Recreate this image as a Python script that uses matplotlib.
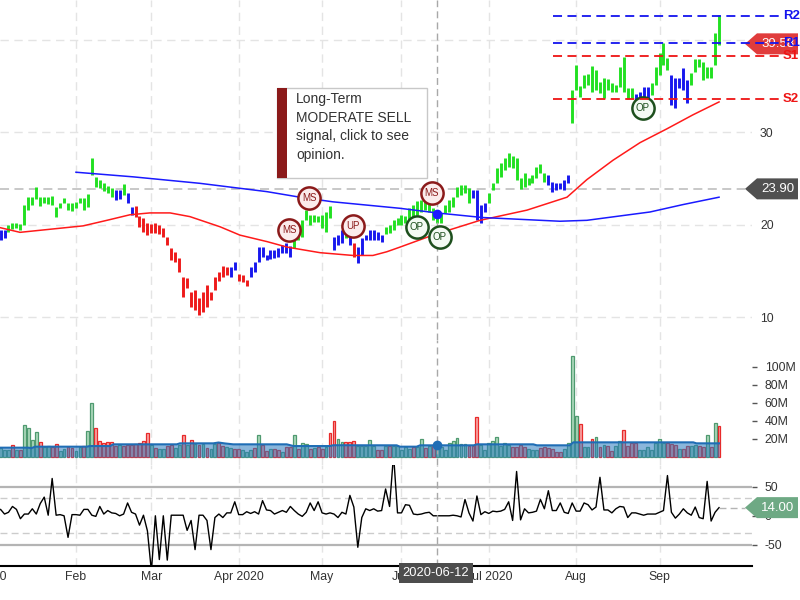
import numpy as np
import matplotlib
matplotlib.use("Agg")
import matplotlib.pyplot as plt
from matplotlib.patches import Polygon, Rectangle
from matplotlib.transforms import blended_transform_factory as blend

plt.rcParams['font.family'] = ['Liberation Sans', 'DejaVu Sans']
plt.rcParams['axes.unicode_minus'] = False

# x = trading day index, 0 = 2020-01-02
month_idx = [21, 40, 62, 83, 103, 125, 147, 168]
month_lbl = ['Feb', 'Mar', 'Apr 2020', 'May', 'Jun', 'Jul 2020', 'Aug', 'Sep']
jan_idx = -2.8

high = [19.7, 19.6, 19.4, 19.4, 20.0, 20.2, 20.2, 20.1, 22.2, 23.0,
        23.0, 24.1, 23.0, 23.0, 23.0, 23.1, 21.9, 22.4, 22.9, 22.4,
        22.4, 22.5, 22.9, 22.9, 23.3, 27.2, 25.2, 24.9, 24.5, 24.2,
        24.0, 23.8, 23.8, 24.4, 23.5, 21.9, 22.1, 21.0, 20.8, 20.2,
        20.1, 20.2, 20.0, 19.7, 18.7, 17.5, 17.1, 16.4, 14.4, 14.3,
        12.8, 13.0, 12.1, 12.7, 13.5, 12.8, 14.4, 14.9, 15.6, 15.5,
        15.4, 16.0, 14.7, 14.6, 14.1, 15.4, 16.0, 17.6, 17.6, 16.8,
        17.3, 17.3, 17.5, 17.8, 18.1, 17.7, 18.4, 19.4, 20.5, 21.6,
        21.1, 21.1, 21.0, 21.1, 21.4, 22.1, 18.7, 18.9, 19.5, 19.7,
        19.2, 18.1, 17.6, 18.6, 18.9, 19.4, 19.4, 19.2, 18.9, 19.8,
        20.0, 20.5, 20.8, 21.1, 21.0, 21.8, 22.2, 22.6, 22.7, 22.7,
        22.4, 21.8, 21.4, 21.3, 22.2, 22.7, 23.0, 24.1, 24.3, 24.3,
        24.0, 23.8, 23.8, 22.2, 22.4, 23.5, 24.5, 26.2, 26.7, 27.2,
        27.8, 27.4, 27.2, 25.1, 25.6, 25.1, 25.4, 26.3, 26.6, 25.6,
        25.4, 24.6, 24.5, 24.5, 24.9, 25.4, 34.6, 37.3, 35.0, 36.2,
        36.3, 37.2, 36.8, 35.5, 35.9, 35.8, 35.3, 35.1, 37.1, 38.2,
        34.8, 34.8, 34.2, 34.4, 34.9, 34.9, 35.3, 37.1, 38.6, 39.7,
        38.0, 36.2, 35.9, 35.9, 37.0, 35.7, 36.4, 37.9, 37.9, 37.6,
        37.1, 37.1, 40.8, 42.7]
low = [18.6, 18.5, 18.4, 18.6, 19.2, 19.6, 19.7, 19.5, 20.0, 21.6,
       22.2, 22.8, 22.1, 22.4, 22.3, 22.2, 20.9, 21.8, 22.4, 21.6,
       21.5, 21.8, 22.4, 21.6, 21.9, 25.4, 24.1, 24.0, 23.7, 23.5,
       23.0, 22.7, 22.8, 23.2, 22.4, 21.1, 20.9, 19.8, 19.2, 18.9,
       19.1, 19.1, 19.0, 18.7, 17.8, 16.2, 16.0, 14.9, 12.2, 13.2,
       11.1, 10.8, 10.3, 10.6, 11.1, 11.9, 13.0, 13.9, 14.4, 14.6,
       14.4, 15.1, 13.9, 13.8, 13.4, 14.4, 14.9, 16.0, 16.5, 16.2,
       16.3, 16.4, 16.5, 17.0, 17.0, 16.5, 17.5, 18.4, 18.7, 20.5,
       20.0, 20.3, 20.3, 19.7, 19.2, 20.8, 17.3, 17.8, 18.1, 18.6,
       17.8, 16.5, 15.9, 16.8, 18.4, 18.4, 18.4, 18.4, 18.2, 19.0,
       19.1, 19.5, 20.0, 20.0, 20.2, 20.5, 20.9, 21.1, 21.4, 21.6,
       21.4, 20.5, 20.2, 20.2, 21.3, 21.4, 21.9, 23.0, 23.2, 23.5,
       22.4, 22.9, 20.5, 20.2, 21.4, 22.4, 23.8, 24.5, 25.2, 25.9,
       26.3, 26.2, 24.9, 23.9, 24.1, 24.3, 24.5, 25.1, 25.6, 24.6,
       24.3, 23.6, 23.8, 23.9, 23.8, 24.5, 31.0, 34.6, 33.8, 34.8,
       35.1, 34.4, 34.6, 34.3, 33.7, 34.6, 34.4, 34.4, 34.9, 34.4,
       33.6, 33.7, 33.3, 33.5, 33.7, 33.6, 34.0, 35.1, 36.2, 37.3,
       36.8, 33.0, 32.6, 34.8, 34.6, 33.2, 35.1, 36.5, 37.1, 35.7,
       35.9, 35.9, 37.3, 39.5]
# bar colour: g = up trend, b = neutral, r = down trend
trend = ("b" * 4 + "g" * 27 + "b" * 2 + "g" + "b" * 2 + "r" * 24 + "b" * 2 + "r" * 3
         + "b" * 11 + "g" * 10 + "b" * 3 + "g" + "b" + "r" + "b" * 7 + "g" * 22
         + "b" * 4 + "g" * 15 + "b" * 6 + "g" * 16 + "b" * 4 + "g" * 5 + "b" * 5 + "g" * 8)

red_ma_idx = [0, 6.9, 22.8, 28.8, 34.6, 39.6, 44.7, 49.7, 57.3, 62.3, 69.1, 74.2, 82.5,
              90.8, 95.8, 99.3, 102.6, 110.9, 122.8, 134.6, 144.7, 149.7, 156.3, 163.1,
              169.9, 176.4, 183]
red_ma_val = [19.9, 19.2, 19.9, 20.5, 21.1, 21.3, 21.3, 20.9, 19.8, 18.9, 18.2, 17.6, 17.0,
              16.7, 16.7, 17.1, 17.6, 18.9, 20.5, 21.6, 23.0, 24.9, 27.0, 28.9,
              30.4, 31.9, 33.3]
blue_ma_idx = [21, 35.4, 52.2, 69.1, 77.4, 85.7, 102.6, 111.9, 123.5, 142.9, 149.7, 165.6, 173.9, 183]
blue_ma_val = [25.7, 25.2, 24.5, 23.6, 23.0, 22.5, 21.8, 21.3, 20.8, 20.4, 20.5, 21.4, 22.2, 23.0]

# volume, millions
volume = ([9, 9, 10,
           8, 8, 13, 8, 8, 35, 32, 19, 28, 17,
           11, 12, 11, 14, 7, 9, 11, 10, 7, 11,
           12, 29, 60, 32, 18, 15, 17, 17, 12, 13,
           12, 13, 13, 14, 15, 18, 26, 13, 10, 9,
           9, 12, 13, 10, 13, 24, 13, 19, 14, 13,
           14, 10, 9, 14, 16, 12, 11, 10, 9, 9,
           8, 6, 8, 10, 24, 13, 7, 9, 9, 8,
           5, 11, 11, 24, 9, 16, 14, 9, 10, 11,
           9, 11, 27, 40, 20, 17, 17, 17, 18, 12,
           12, 12, 19]
          + [12, 8, 8, 12, 12, 12, 12, 8, 11, 9,
             11, 11, 20, 10, 12, 12, 13, 11, 8, 15,
             18, 21, 14, 14, 12, 12, 44, 13, 8, 15,
             18, 22, 12, 16, 13, 11, 11, 13, 11, 9,
             8, 8, 10, 11, 10, 9, 6, 5, 9, 15]
          + [112, 45, 37, 11, 11, 20, 22, 11, 13, 12,
             7, 12, 18, 30, 12, 16, 16, 8, 8, 11,
             8, 16, 20, 16, 16, 14, 13, 9, 9, 12,
             12, 13, 12, 11, 24, 11, 38, 34])
vol_dir = ("uuuuududuu" "uuduudduud" "duuduudddd" "dduddddddd" "uduudduudu"
           "dududuuddu" "udduuududd" "uddudduduu" "duddudduud" "dduuuuuddu"
           "duuuuuduud" "uduuuuuuuu" "ddduuuuuuu" "udddduuudd" "dddduuuudu"
           "udududduud" "ddduuuuuuu" "dddudduudd" "udud")
vma_idx = [0, 9, 9.8, 10.7, 23.7, 24.5, 29.6, 30.4, 46.4, 47.2, 55.6, 56.9, 58.5, 60.6,
           74.1, 75.8, 85, 85.8, 101.8, 102.6, 106.8, 107.7, 121.2, 122, 136.2, 137.1,
           145.4, 146.3, 176.5, 177.3, 183]
vma_val = [10.3, 10.3, 9.8, 11.4, 11.4, 12.1, 12.1, 14, 14, 15.1, 15.1, 16, 15, 14,
           14, 12.1, 12.1, 13, 12.9, 11.4, 11.4, 12.9, 12.9, 14, 14, 12.9,
           12.9, 16.2, 16.2, 15.1, 15.1]

osc = ([6, 9,
        11, 3, 6, 16, 11, -5, 3, 3, 12, 3, 21, 32, 1, 64, 1, 2, 0, -37, 2, 2,
        1, 11, 11, 1, -1, 16, 3, 9, 5, 4, 0, 3, 22, 6, 3, -16, 1, -26, -95, 0,
        -75, 0, -76, 1, 1, 1, 1, -25, -8, -58, 1, 1, -8, -58, -3, 3, -3, 5, 5, 24,
        2, 2, 7, 4, 7, 3, 26, 10, 9, 3, 6, 9, 6, 16, 9, 3, -1, 6, 22, 9,
        24, 5, 3, 5, 3, -3, 6, 3, 35, 15, -54, -3]
       + [12, 9, 12, 8, 9, 46, 16, 105, 5, 5, 19, 18, 3, 2, 3, 5, 6, 0, 0, 0,
          0, 0, 1, 0, -2, 28, 5, -9, 34, 2, 7, 4, 8, 7, 8, 11, 24, -8, 76, -7,
          12, 5, 6, 8, 28, 12, 43, 9, 9, 22, 6, 4, 22, 8, 8, 22, 19, 10, 15, 66,
          10, 10, 5, 12, 16, 15, -3, 5, 5, 3, 1, 3, 3, 3, 6, 9, 69, 6, -4, 3,
          12, 5, 1, 15, -3, -5, 59, -9, 6, 14])

sig_lbl = ['MS', 'MS', 'UP', 'OP', 'MS', 'OP', 'OP']
sig_idx = [74.7, 79.8, 90.7, 106.8, 110.6, 112.7, 163.8]
sig_val = [19.5, 22.9, 19.9, 19.8, 23.5, 18.7, 32.6]

level_names = ['R2', 'R1', 'S1', 'S2']
level_vals = [42.6, 39.7, 38.3, 33.6]
level_start = 141.2

ref_price = 23.90
last_price = 39.58
cross_idx = 112
cross_date = '2020-06-12'
tooltip = "Long-Term\nMODERATE SELL\nsignal, click to see\nopinion."

idx = np.arange(len(high))
W, H = 800, 600
fig = plt.figure(figsize=(8, 6), dpi=100)
ax_p = fig.add_axes([0, 260 / H, 752 / W, 340 / H])
ax_v = fig.add_axes([0, 135 / H, 752 / W, 125 / H])
ax_o = fig.add_axes([0, 34 / H, 752 / W, 101 / H])

grid_kw = dict(color='#e4e4e4', lw=1, ls=(0, (6, 4)), zorder=0)
for ax in (ax_p, ax_v, ax_o):
    ax.set_xlim(1.86, 191.3)
    ax.set_facecolor('none')
    for s in ax.spines.values():
        s.set_visible(False)
    for m in month_idx:
        ax.axvline(m, **grid_kw)
    ax.axvline(cross_idx, color='#a8a8a8', lw=1, ls=(0, (5, 3)), zorder=4)
    ax.yaxis.tick_right()
    ax.tick_params(axis='y', labelsize=8.8, labelcolor='#333333', color='#555555')

# price
ax_p.set_ylim(7.56, 44.32)
ax_p.set_xticks([])
ax_p.set_yticks([10, 20, 30, 40])
ax_p.tick_params(axis='y', length=0, pad=5.8)
for g in [10, 20, 30, 40]:
    ax_p.axhline(g, **grid_kw)
bar_col = {'g': '#22e022', 'b': '#1818ee', 'r': '#ee1a1a'}
ax_p.vlines(idx, low, high, colors=[bar_col[c] for c in trend], lw=2.1, zorder=2)
ax_p.plot(red_ma_idx, red_ma_val, color='#ff1a1a', lw=1.1, zorder=3)
ax_p.plot(blue_ma_idx, blue_ma_val, color='#1a1aff', lw=1.1, zorder=3)
ax_p.axhline(ref_price, xmax=745 / 752, color='#c4c4c4', lw=1.3, ls=(0, (5, 3)), zorder=1)
ax_p.plot(cross_idx, 21.2, 'o', ms=6, color='#1a1aff', zorder=5)

sig_style = {'MS': ('#8b1a1a', '#fbecec'), 'UP': ('#8b1a1a', '#fbecec'), 'OP': ('#1d4f1d', '#f3faf3')}
for lab, x, y in zip(sig_lbl, sig_idx, sig_val):
    ec, fc = sig_style[lab]
    ax_p.plot(x, y, 'o', ms=16, mfc=fc, mec=ec, mew=1.8, zorder=6)
    ax_p.text(x, y, lab, color=ec, fontsize=7, ha='center', va='center', zorder=7)


def tag(ax, val, text, color):
    y = fig.transFigure.inverted().transform(ax.transData.transform((0, val)))[1]
    h = 10.5 / H
    pts = [(745 / W, y), (757 / W, y + h), (798 / W, y + h), (798 / W, y - h), (757 / W, y - h)]
    poly = Polygon(pts, closed=True, transform=fig.transFigure, fc=color, ec='none', zorder=5)
    ax.add_patch(poly)
    poly.set_clip_on(False)
    ax.text(778 / W, y, text, transform=fig.transFigure, color='white', fontsize=9.5,
            ha='center', va='center', zorder=7, clip_on=False)


tag(ax_p, ref_price, '%.2f' % ref_price, '#505050')
tag(ax_p, last_price, '%.2f' % last_price, '#e03c3c')

lvl_tr = blend(ax_p.transAxes, ax_p.transData)
for name, val in zip(level_names, level_vals):
    col = '#1414ee' if name[0] == 'R' else '#ee1414'
    ax_p.plot([level_start, 198.3], [val, val], color=col, lw=1.3, ls=(0, (5, 3)),
              clip_on=False, zorder=8)
    ax_p.text(783 / 752, val, name, transform=lvl_tr, color=col, fontweight='bold',
              fontsize=9.5, va='center', ha='left', zorder=9, clip_on=False)

# volume
ax_v.set_ylim(-8.84, 129.3)
ax_v.set_xticks([])
ax_v.set_yticks([20, 40, 60, 80, 100])
ax_v.set_yticklabels(['%dM' % v for v in [20, 40, 60, 80, 100]])
ax_v.tick_params(axis='y', length=3.6, width=1, pad=5.5)
vface = {'u': '#acd8bb', 'd': '#f7a4a4'}
vedge = {'u': '#4f9a70', 'd': '#e82a2a'}
ax_v.bar(idx, volume, width=0.72, color=[vface[c] for c in vol_dir],
         edgecolor=[vedge[c] for c in vol_dir], lw=0.9, zorder=2)
ax_v.fill_between(vma_idx, 0, vma_val, color='#2a7bbf', alpha=0.55, lw=0, zorder=3)
ax_v.plot(vma_idx, vma_val, color='#1f6db5', lw=1.5, zorder=4)
ax_v.plot(cross_idx, 13, 'o', ms=6, color='#1f6db5', zorder=5)

# oscillator
ax_o.set_ylim(-86.1, 87.1)
ax_o.set_yticks([-50, 0, 50])
ax_o.tick_params(axis='y', length=3.6, width=1, pad=5.5)
for v in (50, -50):
    ax_o.axhline(v, color='#b4b4b4', lw=1.6, zorder=1)
for v in (30, -30):
    ax_o.axhline(v, color='#cccccc', lw=1, ls=(0, (5, 3)), zorder=1)
ax_o.plot(idx, osc, color='black', lw=1, zorder=3)
ax_o.plot([idx[-1], 189.5], [osc[-1], osc[-1]], color='#b4b4b4', lw=1, ls=(0, (5, 3)),
          clip_on=False, zorder=3)
tag(ax_o, osc[-1], '%.2f' % osc[-1], '#6ea984')
ax_o.spines['bottom'].set_visible(True)
ax_o.spines['bottom'].set_color('black')
ax_o.spines['bottom'].set_linewidth(1.5)
ax_o.set_xticks(month_idx)
ax_o.set_xticklabels(month_lbl)
ax_o.tick_params(axis='x', length=0, pad=3.5, labelsize=8.8, labelcolor='#333333')
xtr = blend(ax_o.transData, ax_o.transAxes)
ax_o.text(jan_idx, -0.05, 'Jan 2020', transform=xtr, ha='center', va='top',
          fontsize=8.8, color='#333333', clip_on=False)
ax_o.text(cross_idx - 0.3, -0.01, cross_date, transform=xtr, ha='center', va='top',
          color='white', fontsize=9.3, zorder=10, clip_on=False,
          bbox=dict(boxstyle='square,pad=0.3', fc='#4d4d4d', ec='none'))

# tooltip
fig.add_artist(Rectangle((277 / W, 1 - 178 / H), 150 / W, 90 / H, transform=fig.transFigure,
                         fc='white', ec='#c8c8c8', lw=1, zorder=20))
fig.add_artist(Rectangle((277 / W, 1 - 178 / H), 10 / W, 90 / H, transform=fig.transFigure,
                         fc='#8b1a1a', ec='none', zorder=21))
fig.text(296 / W, 1 - 92 / H, tooltip, va='top', ha='left', fontsize=10, color='#333333',
         linespacing=1.42, zorder=22)

fig.savefig('out.png', dpi=100)
